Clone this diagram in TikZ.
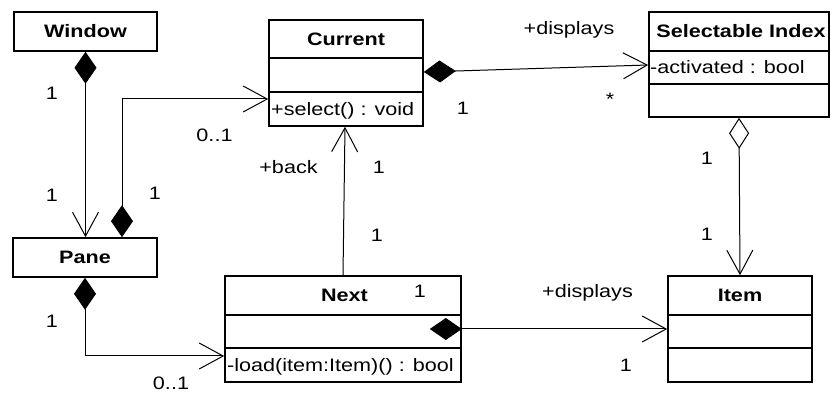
\documentclass[tikz,border=0pt]{standalone}
\usepackage{fontspec}
\setmainfont{Liberation Sans}[FakeStretch=1.2]
\usetikzlibrary{arrows.meta,calc}

\tikzset{
  classbox/.style={draw, line width=1.6pt, inner sep=0pt},
  divider/.style={line width=1.6pt},
  txt/.style={inner sep=0pt, text height=12.9pt, text depth=0pt, font=\fontsize{18}{18}\selectfont},
  title/.style={txt, font=\fontsize{18}{18}\selectfont\bfseries},
  member/.style={txt, anchor=west},
  conn/.style={line width=1pt},
  comp/.tip={Diamond[length=32pt, width=22pt, fill=black]},
  aggr/.tip={Diamond[open, length=31pt, width=20pt, fill=white]},
  nav/.tip={Straight Barb[length=24pt, width=26pt, line width=1pt]},
}

\begin{document}
\begin{tikzpicture}[x=1pt, y=-1pt]
\useasboundingbox (0,0) rectangle (831,403);

% --- classes ---
\node[classbox, minimum width=143pt, minimum height=39pt] (window) at (85.5,31.5) {};
\node[title] (windowT) at (85.5,31.5) {Window};

\node[classbox, minimum width=144pt, minimum height=39pt] (pane) at (85,257.5) {};
\node[title] (paneT) at (85,257.5) {Pane};

\node[classbox, minimum width=154pt, minimum height=106pt] (current) at (346,73) {};
\draw[divider] (269,58) -- (423,58);
\draw[divider] (269,92) -- (423,92);
\node[title] (currentT) at (346,39) {Current};
\node[member] (currentOp) at (271,109) {+select() : void};

\node[classbox, minimum width=180pt, minimum height=105pt] (sel) at (739,64.5) {};
\draw[divider] (649,51) -- (829,51);
\draw[divider] (649,84) -- (829,84);
\node[title] (selT) at (741,31.5) {Selectable Index};
\node[member] (selAttr) at (650,67.5) {-activated : bool};

\node[classbox, minimum width=236pt, minimum height=106pt] (next) at (343,329) {};
\draw[divider] (225,315) -- (461,315);
\draw[divider] (225,348) -- (461,348);
\node[title] (nextT) at (344.5,295.5) {Next};
\node[member] (nextOp) at (227,365) {-load(item:Item)() : bool};

\node[classbox, minimum width=144pt, minimum height=106pt] (item) at (740,329) {};
\draw[divider] (668,315) -- (812,315);
\draw[divider] (668,348) -- (812,348);
\node[title] (itemT) at (740,295.5) {Item};

% --- associations ---
\draw[conn, comp-nav] (window.south) -- (window.south |- pane.north);
\draw[conn, comp-nav] ($(pane.north)+(37,0)$) |- ($(current.west)+(0,26)$);
\draw[conn, comp-nav] (pane.south) |- ($(next.west)+(0,27)$);
\draw[conn, -nav] (next.north) -- ($(current.south)+(-1,0)$);
\draw[conn, comp-nav] ($(current.east)+(0,-1)$) -- ($(sel.west)+(0,0.5)$);
% the composition diamond of Next sits inside its attribute compartment
\draw[conn, comp-nav] ($(next.east)+(-32,0)$) -- (item.west);
\draw[conn, aggr-nav] (sel.south) -- (item.north);

% --- role names and multiplicities ---
\node[txt] (m1) at (52,93.5) {1};
\node[txt] (m2) at (214.5,135) {0..1};
\node[txt] (m3) at (52,195) {1};
\node[txt] (m4) at (155,193) {1};
\node[txt] (r1) at (288.5,167.5) {+back};
\node[txt] (m5) at (379,167.5) {1};
\node[txt] (m6) at (377,235) {1};
\node[txt] (r2) at (569,28) {+displays};
\node[txt] (m7) at (463,108.5) {1};
\node[txt] (m8) at (610,99.5) {*};
\node[txt] (m9) at (707,158.5) {1};
\node[txt] (m10) at (707,234) {1};
\node[txt] (m11) at (420,291.5) {1};
\node[txt] (r3) at (587.5,291.5) {+displays};
\node[txt] (m12) at (626,365) {1};
\node[txt] (m13) at (52,321.5) {1};
\node[txt] (m14) at (171,383.5) {0..1};
\end{tikzpicture}
\end{document}
